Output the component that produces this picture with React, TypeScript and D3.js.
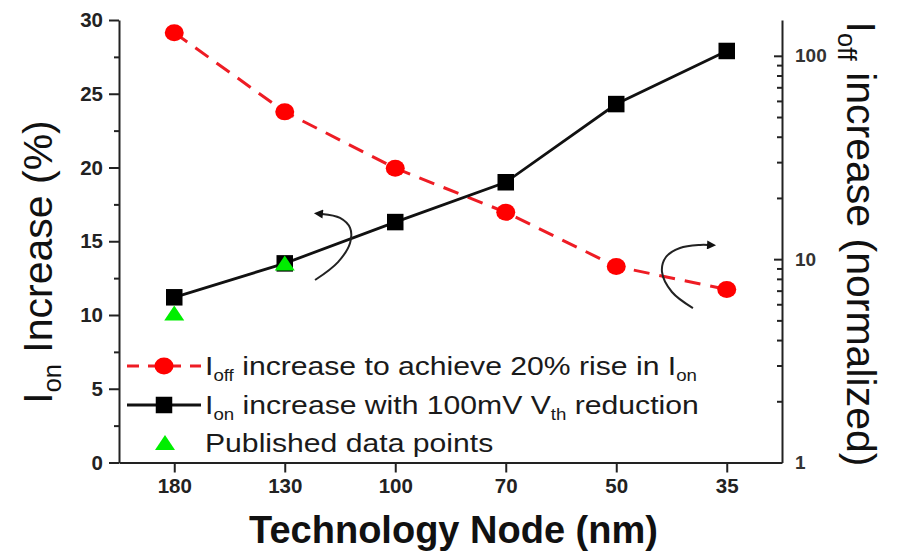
import React, { useEffect, useRef } from 'react';
import * as d3 from 'd3';

// technology nodes on the x axis
const nodes = ['180', '130', '100', '70', '50', '35'];
// Ion increase (%) with 100mV Vth reduction, left axis
const ionIncrease = [11.2, 13.5, 16.3, 19.0, 24.3, 27.9];
// Ioff increase (normalized) to achieve 20% rise in Ion, right log axis
const ioffIncrease = [130, 53, 28, 17, 9.2, 7.1];
// published data points, left axis
const publishedNodes = ['180', '130'];
const publishedValues = [10.1, 13.5];

const leftTicks = [0, 5, 10, 15, 20, 25, 30];
const leftMinor = [2.5, 7.5, 12.5, 17.5, 22.5, 27.5];
const rightTicks = [1, 10, 100];
const rightMinor = [2, 3, 4, 5, 6, 7, 8, 9, 20, 30, 40, 50, 60, 70, 80, 90];

// curved arrows, in (node index, left axis value)
const leftArrow: [number, number][] = [
  [1.274, 12.37], [1.482, 13.59], [1.591, 14.88], [1.591, 15.9], [1.5, 16.58], [1.337, 16.85]
];
const rightArrow: [number, number][] = [
  [4.694, 10.47], [4.504, 11.56], [4.414, 12.92], [4.45, 13.93], [4.577, 14.54], [4.758, 14.75], [4.83, 14.75]
];

const font = '"Liberation Sans", Arial, sans-serif';

type Part = [string, boolean];

// text with subscripts
function richText(sel: any, parts: Part[], size: number) {
  let down = false;
  parts.forEach(([t, sub]) => {
    const ts = sel.append('tspan').text(t);
    if (sub) {
      ts.attr('font-size', size * 0.62).attr('dy', down ? 0 : size * 0.22);
      down = true;
    } else {
      ts.attr('dy', down ? -size * 0.22 : 0);
      down = false;
    }
  });
}

export default function App() {
  const ref = useRef<SVGSVGElement>(null);

  useEffect(() => {
    const svg = d3.select(ref.current);
    svg.selectAll('*').remove();

    const x = d3.scalePoint().domain(nodes).range([119, 782]).padding(0.5);
    const xi = d3.scaleLinear().domain([0, 5]).range([x('180')!, x('35')!]);
    const yL = d3.scaleLinear().domain([0, 30]).range([462.5, 20]);
    const yR = d3.scaleLog().domain([1, 150]).range([462.5, 20]);

    const defs = svg.append('defs');
    defs.append('marker')
      .attr('id', 'arrowhead')
      .attr('viewBox', '0 0 10 10')
      .attr('refX', 1)
      .attr('refY', 5)
      .attr('markerUnits', 'userSpaceOnUse')
      .attr('markerWidth', 13)
      .attr('markerHeight', 9)
      .attr('orient', 'auto')
      .append('path')
      .attr('d', 'M0,0 L10,5 L0,10 z')
      .attr('fill', '#111');

    const styleAxis = (g: any, size: number, weight: string) => {
      g.selectAll('path.domain, line').attr('stroke', '#222').attr('stroke-width', 2);
      g.selectAll('text')
        .attr('font-family', font)
        .attr('font-size', size)
        .attr('font-weight', weight)
        .attr('fill', '#222');
    };

    // axes
    const xAxis = svg.append('g')
      .attr('transform', `translate(0,${yL(0)})`)
      .call(d3.axisBottom(x).tickSizeInner(10).tickSizeOuter(0).tickPadding(6));
    styleAxis(xAxis, 20.5, 'bold');

    const yAxisL = svg.append('g')
      .attr('transform', `translate(${x.range()[0]},0)`)
      .call(d3.axisLeft(yL).tickValues(leftTicks).tickSizeInner(10).tickSizeOuter(0).tickPadding(6));
    styleAxis(yAxisL, 20.5, 'bold');

    const yMinorL = svg.append('g')
      .attr('transform', `translate(${x.range()[0]},0)`)
      .call(d3.axisLeft(yL).tickValues(leftMinor).tickSize(5).tickFormat(() => ''));
    yMinorL.select('path.domain').remove();
    styleAxis(yMinorL, 20, 'bold');

    const yAxisR = svg.append('g')
      .attr('transform', `translate(${x.range()[1]},0)`)
      .call(d3.axisRight(yR).tickValues(rightTicks).tickFormat(d3.format('d'))
        .tickSizeInner(-8).tickSizeOuter(0).tickPadding(13));
    styleAxis(yAxisR, 19, 'bold');
    yAxisR.selectAll('text').attr('fill', '#333');

    const yMinorR = svg.append('g')
      .attr('transform', `translate(${x.range()[1]},0)`)
      .call(d3.axisRight(yR).tickValues(rightMinor).tickSize(-5).tickFormat(() => ''));
    yMinorR.select('path.domain').remove();
    styleAxis(yMinorR, 19, 'bold');

    // axis titles
    svg.append('text')
      .attr('x', (x.range()[0] + x.range()[1]) / 2 + 3)
      .attr('y', 543)
      .attr('text-anchor', 'middle')
      .attr('font-family', font)
      .attr('font-size', 38)
      .attr('font-weight', 'bold')
      .attr('fill', '#111')
      .text('Technology Node (nm)');

    const tl = svg.append('text')
      .attr('transform', 'translate(52,262) rotate(-90)')
      .attr('text-anchor', 'middle')
      .attr('font-family', font)
      .attr('font-size', 41)
      .attr('fill', '#111');
    richText(tl, [['I', false], ['on', true], [' Increase (%)', false]], 41);

    const tr = svg.append('text')
      .attr('transform', 'translate(847,244) rotate(90)')
      .attr('text-anchor', 'middle')
      .attr('font-family', font)
      .attr('font-size', 41)
      .attr('fill', '#111');
    richText(tr, [['I', false], ['off', true], [' increase (normalized)', false]], 41);

    // lines
    const redLine = d3.line<number>()
      .x((d, i) => x(nodes[i])!)
      .y(d => yR(d));
    const blackLine = d3.line<number>()
      .x((d, i) => x(nodes[i])!)
      .y(d => yL(d));

    svg.append('path')
      .attr('d', redLine(ioffIncrease)!)
      .attr('fill', 'none')
      .attr('stroke', '#ee1c24')
      .attr('stroke-width', 3)
      .attr('stroke-dasharray', '16,10');

    svg.append('path')
      .attr('d', blackLine(ionIncrease)!)
      .attr('fill', 'none')
      .attr('stroke', '#111')
      .attr('stroke-width', 2.8);

    // arrows
    const arrowLine = d3.line<[number, number]>()
      .x(d => xi(d[0]))
      .y(d => yL(d[1]))
      .curve(d3.curveCatmullRom);
    [leftArrow, rightArrow].forEach(a => {
      svg.append('path')
        .attr('d', arrowLine(a)!)
        .attr('fill', 'none')
        .attr('stroke', '#222')
        .attr('stroke-width', 2)
        .attr('marker-end', 'url(#arrowhead)');
    });

    // markers
    svg.selectAll('ellipse.ioff')
      .data(ioffIncrease)
      .enter().append('ellipse')
      .attr('class', 'ioff')
      .attr('cx', (d, i) => x(nodes[i])!)
      .attr('cy', d => yR(d))
      .attr('rx', 9.5)
      .attr('ry', 8.5)
      .attr('fill', '#ff0000');

    const sq = 16.5;
    svg.selectAll('rect.ion')
      .data(ionIncrease)
      .enter().append('rect')
      .attr('class', 'ion')
      .attr('x', (d, i) => x(nodes[i])! - sq / 2)
      .attr('y', d => yL(d) - sq / 2)
      .attr('width', sq)
      .attr('height', sq)
      .attr('fill', '#000');

    const tri = (cx: number, cy: number) =>
      `M${cx - 10},${cy + 7} L${cx + 10},${cy + 7} L${cx},${cy - 8} Z`;
    svg.selectAll('path.pub')
      .data(publishedValues)
      .enter().append('path')
      .attr('class', 'pub')
      .attr('d', (d, i) => tri(x(publishedNodes[i])!, yL(d)))
      .attr('fill', '#00ee00');

    // legend
    const lx0 = 127, lx1 = 201, lsym = 164, ltext = 205;
    const rows = [366, 405, 443];
    const legendSize = 26;

    svg.append('line')
      .attr('x1', lx0).attr('x2', lx1).attr('y1', rows[0]).attr('y2', rows[0])
      .attr('stroke', '#ee1c24').attr('stroke-width', 3).attr('stroke-dasharray', '12,9');
    svg.append('ellipse')
      .attr('cx', lsym).attr('cy', rows[0]).attr('rx', 9.5).attr('ry', 8.5).attr('fill', '#ff0000');

    svg.append('line')
      .attr('x1', lx0).attr('x2', lx1).attr('y1', rows[1]).attr('y2', rows[1])
      .attr('stroke', '#111').attr('stroke-width', 2.8);
    svg.append('rect')
      .attr('x', lsym - sq / 2).attr('y', rows[1] - sq / 2).attr('width', sq).attr('height', sq).attr('fill', '#000');

    svg.append('path').attr('d', tri(lsym + 1, rows[2])).attr('fill', '#00ee00');

    const legendLines: Part[][] = [
      [['I', false], ['off', true], [' increase to achieve 20% rise in I', false], ['on', true]],
      [['I', false], ['on', true], [' increase with 100mV V', false], ['th', true], [' reduction', false]],
      [['Published data points', false]]
    ];
    legendLines.forEach((parts, k) => {
      const t = svg.append('text')
        .attr('transform', `translate(${ltext},${rows[k] + 9}) scale(1.16,1)`)
        .attr('font-family', font)
        .attr('font-size', legendSize)
        .attr('fill', '#1a1a1a');
      richText(t, parts, legendSize);
    });
  }, []);

  return (
    <svg
      ref={ref}
      width={899}
      height={554}
      style={{ position: 'absolute', left: 0, top: 0, background: '#fff' }}
    />
  );
}
